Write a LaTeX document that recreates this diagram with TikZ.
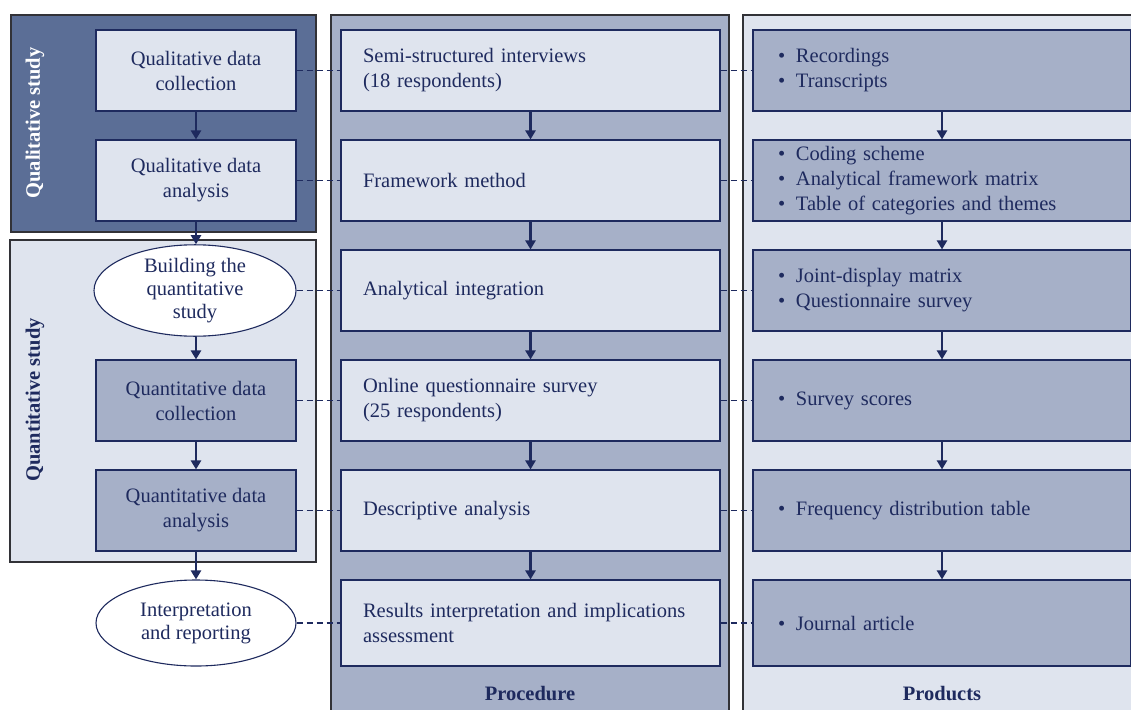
\documentclass[tikz,border=0pt]{standalone}
\usepackage{fontspec}
\setmainfont{Liberation Serif}
\usetikzlibrary{arrows.meta,shapes.geometric}
\definecolor{navy}{RGB}{30,42,94}
\definecolor{slate}{RGB}{91,110,150}
\definecolor{mist}{RGB}{166,176,200}
\definecolor{pale}{RGB}{223,228,238}
\definecolor{frame}{RGB}{50,50,55}
\newcommand{\itm}[1]{\makebox[18pt][l]{\textbullet}#1}

\begin{document}
\begin{tikzpicture}[x=1pt,y=-1pt,
    every node/.style={font=\fontsize{20.5}{25}\selectfont, text=navy},
    lanebox/.style={draw=frame, line width=1.4pt},
    stagebox/.style={draw=navy, line width=1.1pt, rectangle, minimum width=200pt, minimum height=81pt, align=center, inner sep=0pt},
    stageoval/.style={draw=navy, line width=1.1pt, ellipse, fill=white, minimum width=202pt, minimum height=81pt, align=center, inner sep=0pt, font=\fontsize{20.5}{23}\selectfont},
    procbox/.style={draw=navy, line width=1.1pt, fill=pale, rectangle, text width=335pt, inner xsep=22pt, inner ysep=0pt, minimum height=81pt, align=left},
    prodbox/.style={draw=navy, line width=1.1pt, fill=mist, rectangle, text width=328pt, inner xsep=25pt, inner ysep=0pt, minimum height=81pt, align=left},
    flow/.style={draw=navy, line width=2.4pt, -{Triangle[length=9pt,width=10pt]}},
    link/.style={draw=navy, line width=1.4pt, dash pattern=on 6pt off 4pt}]
    \useasboundingbox (0,0) rectangle (1131,709);
    \clip (0,0) rectangle (1131,709);
    \filldraw [lanebox, fill=slate] (11,15) rectangle (316,232);
    \filldraw [lanebox, fill=pale] (10,240) rectangle (316,562);
    \filldraw [lanebox, fill=mist] (331,15) rectangle (729,720);
    \filldraw [lanebox, fill=pale] (743,15) rectangle (1145,720);
    \node [rotate=90, text=white, font=\fontsize{20.5}{25}\selectfont\bfseries] (qualtag) at (35,123) {Qualitative study};
    \node [rotate=90, font=\fontsize{20.5}{25}\selectfont\bfseries] (quanttag) at (35,400) {Quantitative study};
    \node [font=\fontsize{20.5}{25}\selectfont\bfseries] (proctag) at (530,694) {Procedure};
    \node [font=\fontsize{20.5}{25}\selectfont\bfseries] (prodtag) at (942,694) {Products};
    \node [stagebox, fill=pale] (qcoll) at (196,70.5) {Qualitative data\\collection};
    \node [stagebox, fill=pale] (qana) at (196,180.5) {Qualitative data\\analysis};
    \node [stageoval] (build) at (195,290.5) {Building the\\quantitative\\study};
    \node [stagebox, fill=mist] (ncoll) at (196,400.5) {Quantitative data\\collection};
    \node [stagebox, fill=mist] (nana) at (196,510.5) {Quantitative data\\analysis};
    \node [stageoval, minimum width=200pt, minimum height=86pt] (interp) at (196,623) {Interpretation\\and reporting};
    \node [procbox] (p1) at (530.5,70.5) {Semi-structured interviews\\(18 respondents)};
    \node [procbox] (p2) at (530.5,180.5) {Framework method};
    \node [procbox] (p3) at (530.5,290.5) {Analytical integration};
    \node [procbox] (p4) at (530.5,400.5) {Online questionnaire survey\\(25 respondents)};
    \node [procbox] (p5) at (530.5,510.5) {Descriptive analysis};
    \node [procbox, minimum height=86pt] (p6) at (530.5,623) {Results interpretation and implications\\assessment};
    \node [prodbox] (r1) at (942,70.5) {\itm{Recordings}\\\itm{Transcripts}};
    \node [prodbox] (r2) at (942,180.5) {\itm{Coding scheme}\\\itm{Analytical framework matrix}\\\itm{Table of categories and themes}};
    \node [prodbox] (r3) at (942,290.5) {\itm{Joint-display matrix}\\\itm{Questionnaire survey}};
    \node [prodbox] (r4) at (942,400.5) {\itm{Survey scores}};
    \node [prodbox] (r5) at (942,510.5) {\itm{Frequency distribution table}};
    \node [prodbox, minimum height=86pt] (r6) at (942,623) {\itm{Journal article}};
    \draw [flow] (qcoll) -- (qana);
    \draw [flow] (qana.south) -- (build.north -| qana.south);
    \draw [flow] (build.south -| ncoll.north) -- (ncoll);
    \draw [flow] (ncoll) -- (nana);
    \draw [flow] (nana) -- (interp);
    \draw [flow] (p1) -- (p2);
    \draw [flow] (p2) -- (p3);
    \draw [flow] (p3) -- (p4);
    \draw [flow] (p4) -- (p5);
    \draw [flow] (p5) -- (p6);
    \draw [flow] (r1) -- (r2);
    \draw [flow] (r2) -- (r3);
    \draw [flow] (r3) -- (r4);
    \draw [flow] (r4) -- (r5);
    \draw [flow] (r5) -- (r6);
    \draw [link] (qcoll) -- (p1);
    \draw [link] (qana) -- (p2);
    \draw [link] (build) -- (p3);
    \draw [link] (ncoll) -- (p4);
    \draw [link] (nana) -- (p5);
    \draw [link] (interp) -- (p6);
    \draw [link] (p1) -- (r1);
    \draw [link] (p2) -- (r2);
    \draw [link] (p3) -- (r3);
    \draw [link] (p4) -- (r4);
    \draw [link] (p5) -- (r5);
    \draw [link] (p6) -- (r6);
\end{tikzpicture}
\end{document}
